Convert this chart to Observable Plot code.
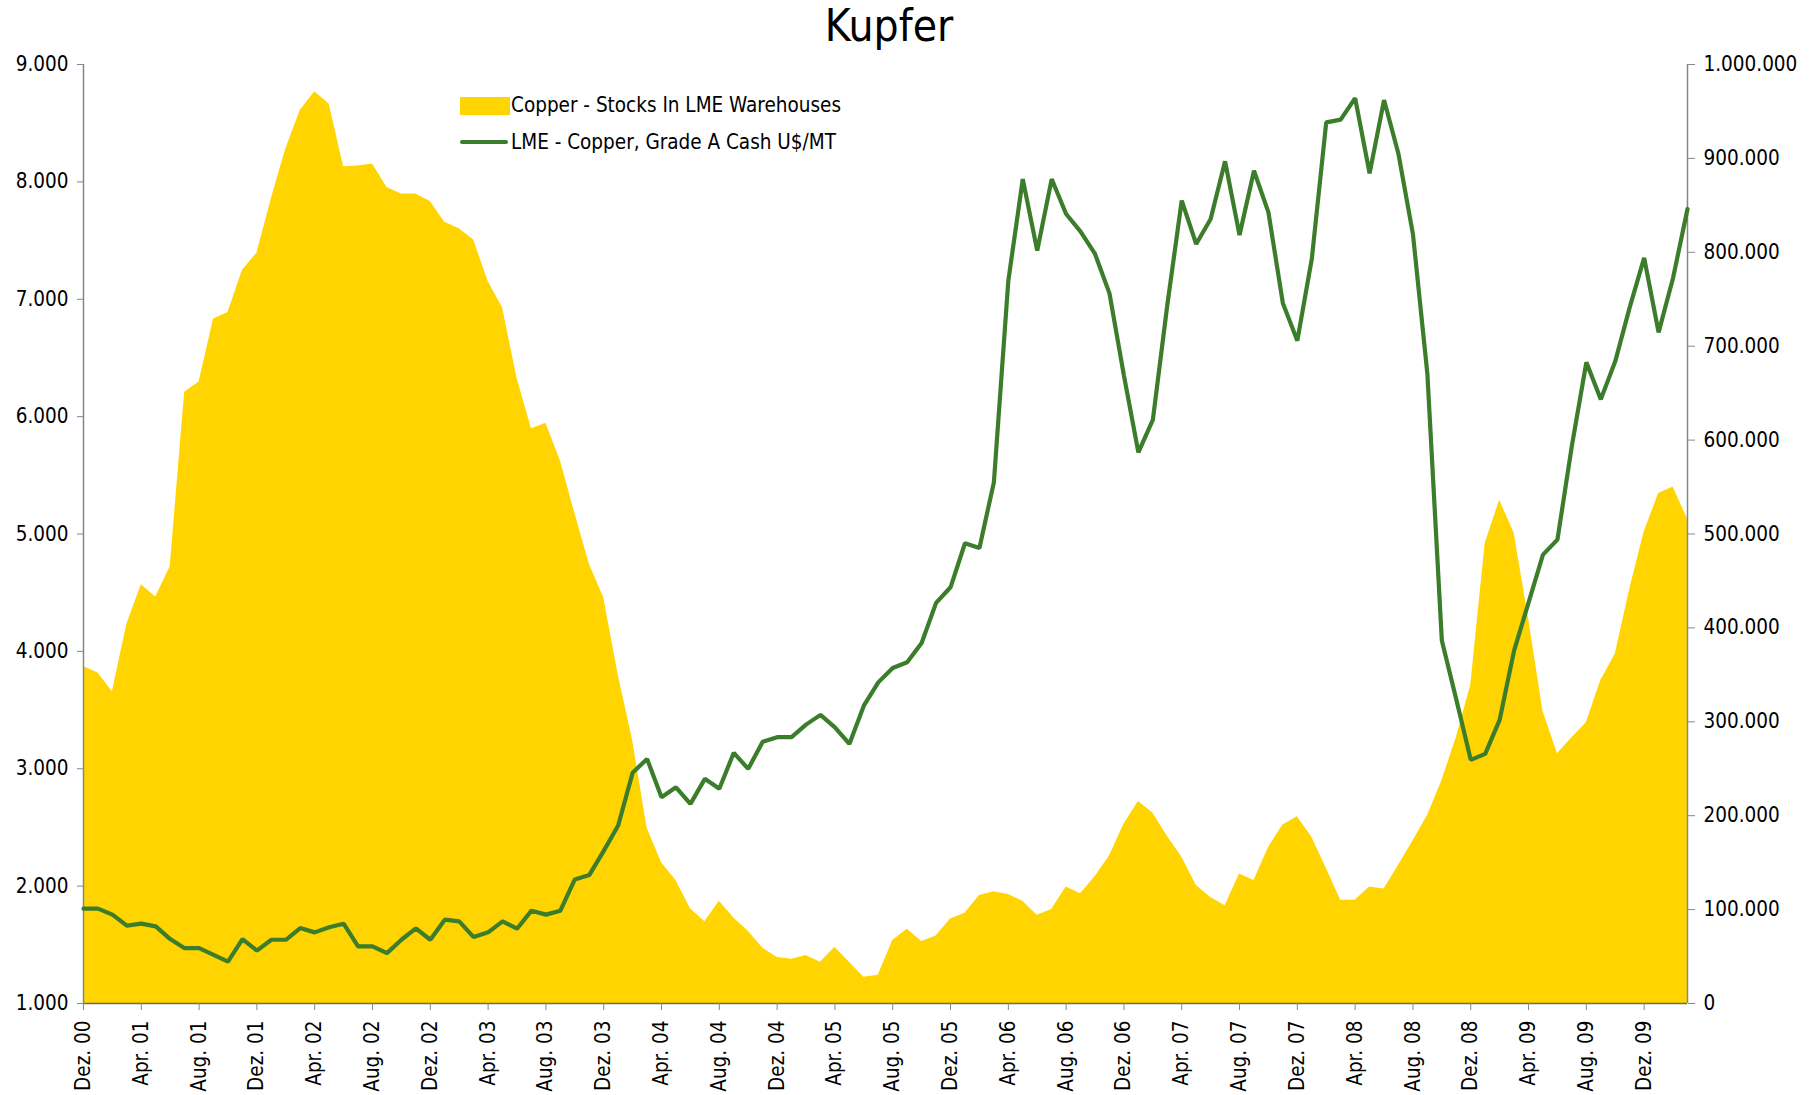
<!DOCTYPE html>
<html>
<head>
<meta charset="utf-8">
<script src="https://cdn.jsdelivr.net/npm/d3@7"></script>
<script src="https://cdn.jsdelivr.net/npm/@observablehq/plot@0.6"></script>
<style>
  body { margin: 0; background: #fff; font-family: "DejaVu Sans Condensed", "DejaVu Sans", sans-serif; }
  #wrap { position: relative; width: 1814px; height: 1095px; overflow: hidden; }
  #wrap svg { position: absolute; left: 0; top: 0; }
  #title { position: absolute; left: 889px; top: 4px; transform: translateX(-50%); font-size: 44px; line-height: 44px; color: #000; white-space: nowrap; }
  .leg { position: absolute; font-size: 20.5px; line-height: 20px; color: #000; white-space: nowrap; }
  .sw { position: absolute; }
</style>
</head>
<body>
<div id="wrap">
  <div id="title">Kupfer</div>
  <div class="sw" style="left:460px;top:97px;width:50px;height:18px;background:#FFD400"></div>
  <div class="leg" style="left:511px;top:95px;">Copper - Stocks In LME Warehouses</div>
  <div class="sw" style="left:460px;top:140px;width:48px;height:4px;background:#3B7D2B;border-radius:2px"></div>
  <div class="leg" style="left:511px;top:132px;">LME - Copper, Grade A Cash U$/MT</div>
</div>
<script>
// Tick labels on the category axis (every 4th month, Dez. 00 ... Dez. 09)
const tickLabels = [
  "Dez. 00","Apr. 01","Aug. 01","Dez. 01","Apr. 02","Aug. 02","Dez. 02",
  "Apr. 03","Aug. 03","Dez. 03","Apr. 04","Aug. 04","Dez. 04","Apr. 05",
  "Aug. 05","Dez. 05","Apr. 06","Aug. 06","Dez. 06","Apr. 07","Aug. 07",
  "Dez. 07","Apr. 08","Aug. 08","Dez. 08","Apr. 09","Aug. 09","Dez. 09"
];

// Copper - Stocks In LME Warehouses (tonnes), monthly Dec 2000 .. Mar 2010 (right axis)
const stocks = [
  359000, 352000, 332000, 404000, 446000, 433000, 465000, 651000, 662000, 729000,
  736000, 781000, 799000, 857000, 910000, 951000, 971000, 958000, 891000, 892000,
  894000, 869000, 862000, 862000, 854000, 832000, 825000, 813000, 769000, 741000,
  666000, 612000, 618000, 578000, 522000, 468000, 432000, 350000, 280000, 187000,
  150000, 131000, 101000, 87000, 109000, 91000, 77000, 59000, 49000, 47000,
  51000, 44000, 60000, 44000, 28000, 30000, 67000, 79000, 66000, 72000,
  90000, 96000, 115000, 119000, 116000, 109000, 94000, 100000, 124000, 117000,
  135000, 157000, 191000, 215000, 203000, 178000, 156000, 126000, 113000, 104000,
  138000, 131000, 166000, 190000, 199000, 177000, 144000, 110000, 110000, 124000,
  122000, 147000, 173000, 200000, 237000, 283000, 339000, 490000, 536000, 501000,
  410000, 311000, 266000, 283000, 299000, 344000, 372000, 441000, 502000, 543000,
  550000, 516000
];

// LME - Copper, Grade A Cash U$/MT, monthly Dec 2000 .. Mar 2010 (left axis)
const price = [
  1808, 1808, 1757, 1663, 1680, 1657, 1549, 1471, 1471, 1414,
  1357, 1549, 1451, 1543, 1543, 1643, 1606, 1649, 1680, 1486,
  1486, 1429, 1543, 1640, 1543, 1714, 1700, 1566, 1606, 1700,
  1637, 1791, 1757, 1791, 2057, 2094, 2300, 2516, 2965, 3084,
  2757, 2842, 2701, 2914, 2829, 3136, 2999, 3230, 3269, 3269,
  3376, 3459, 3353, 3211, 3537, 3736, 3859, 3907, 4072, 4413,
  4546, 4921, 4881, 5440, 7158, 8024, 7414, 8024, 7726, 7576,
  7386, 7050, 6350, 5696, 5972, 6950, 7840, 7471, 7684, 8175,
  7547, 8095, 7740, 6965, 6647, 7343, 8507, 8530, 8714, 8072,
  8697, 8237, 7555, 6363, 4092, 3590, 3076, 3127, 3417, 4007,
  4415, 4824, 4952, 5753, 6463, 6147, 6471, 6931, 7352, 6718,
  7181, 7769
];

const leftTicks = [1000, 2000, 3000, 4000, 5000, 6000, 7000, 8000, 9000];
const rightTicks = [0, 100000, 200000, 300000, 400000, 500000, 600000, 700000, 800000, 900000, 1000000];

const de = d3.formatLocale({decimal: ",", thousands: ".", grouping: [3], currency: ["", " €"]});
const fmt = de.format(",d");

const W = 1814, H = 1095;
const M = {marginLeft: 83, marginRight: 127, marginTop: 64, marginBottom: 92};
const n = price.length;
const GREEN = "#3B7D2B", YELLOW = "#FFD400", AXIS = "#868686";
const style = {fontFamily: '"DejaVu Sans Condensed", "DejaVu Sans", sans-serif', fontSize: "20.5px", color: "#000", background: "transparent", overflow: "visible"};

// Bottom layer: stocks area with right axis
const stockPlot = Plot.plot({
  width: W, height: H, ...M, style,
  x: {domain: [0, n - 1], axis: null},
  y: {domain: [0, 1000000], axis: null},
  marks: [
    Plot.areaY(stocks, {x: (d, i) => i, y: d => d, fill: YELLOW}),
    Plot.axisY({anchor: "right", ticks: rightTicks, tickFormat: fmt, tickSize: 7, tickPadding: 9, stroke: AXIS, fill: "#000"})
  ]
});

// Top layer: price line, left axis, category axis
const pricePlot = Plot.plot({
  width: W, height: H, ...M, style,
  x: {domain: [0, n - 1], axis: null},
  y: {domain: [1000, 9000], axis: null},
  marks: [
    Plot.ruleX([0], {stroke: AXIS, strokeWidth: 1.5}),
    Plot.ruleX([n - 1], {stroke: AXIS, strokeWidth: 1.5}),
    Plot.lineY(price, {x: (d, i) => i, y: d => d, stroke: GREEN, strokeWidth: 4.2, strokeLinejoin: "miter"}),
    Plot.ruleY([1000], {stroke: "#6e6a4a", strokeWidth: 1.5}),
    Plot.axisY({anchor: "left", ticks: leftTicks, tickFormat: fmt, tickSize: 6, tickPadding: 9, stroke: AXIS, fill: "#000"}),
    Plot.axisX({anchor: "bottom", ticks: tickLabels.map((d, k) => k * 4), tickFormat: v => tickLabels[v / 4], tickRotate: -90, tickSize: 7, tickPadding: 10, stroke: AXIS, fill: "#000", fontSize: 20.5})
  ]
});

const wrap = document.getElementById("wrap");
wrap.insertBefore(stockPlot, wrap.firstChild);
wrap.insertBefore(pricePlot, stockPlot.nextSibling);
</script>
</body>
</html>
